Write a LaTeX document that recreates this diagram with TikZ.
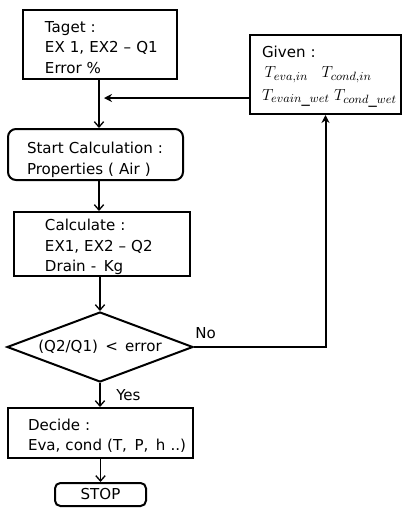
\documentclass[tikz,border=0pt]{standalone}
\usepackage{fontspec}
\setmainfont{DejaVu Sans}
\usetikzlibrary{shapes.geometric,arrows.meta}
\newcommand\topstrut[1]{\rule{0pt}{#1}}
\begin{document}
\begin{tikzpicture}[x=0.75pt,y=-0.75pt,
  txt/.style={font=\fontsize{11.3}{15.4}\selectfont},
  box/.style={draw,line width=1.5pt,align=left,txt,inner ysep=0pt},
  rbox/.style={box,rounded corners=6pt},
  conn/.style={line width=1pt,-{Straight Barb[length=4pt,width=7pt,line width=1pt]}},
  fconn/.style={line width=1.5pt,-{Stealth[length=6pt,width=6pt]}},
  lbl/.style={txt,inner sep=0pt}]
\useasboundingbox (0,0) rectangle (402,508);

\node[box,minimum width=154*0.75pt,minimum height=69*0.75pt,inner xsep=22*0.75pt,text width=110*0.75pt] (taget) at (100,44.5)
  {\mbox{\topstrut{12.5pt}Taget :}\\\mbox{EX 1, EX2 -- Q1}\\\mbox{Error \%}};

\node[box,minimum width=151*0.75pt,minimum height=79*0.75pt,inner xsep=12*0.75pt,text width=127*0.75pt] (given) at (325.5,74.5)
  {\mbox{\topstrut{11.7pt}Given :}\\[0pt]
   \mbox{\fontsize{12.3}{15}\selectfont\,$T_{eva,in}\;\;\;T_{cond,in}$}\\[1.5pt]
   \mbox{\fontsize{12.3}{15}\selectfont$T_{evain\_wet}\;T_{cond\_wet}$}};

\node[rbox,minimum width=175*0.75pt,minimum height=51*0.75pt,inner xsep=19*0.75pt,text width=137*0.75pt] (start) at (95.5,154.5)
  {\mbox{\topstrut{16.2pt}Start Calculation :}\\\mbox{Properties ( Air )}};

\node[box,minimum width=176*0.75pt,minimum height=64*0.75pt,inner xsep=31*0.75pt,text width=114*0.75pt] (calc) at (102,244)
  {\mbox{\topstrut{13.2pt}Calculate :}\\\mbox{EX1, EX2 -- Q2}\\\mbox{Drain -\, Kg}};

\node[draw,diamond,line width=1.5pt,aspect=2.66,inner sep=0pt,minimum width=186*0.75pt,minimum height=70*0.75pt,txt] (dia) at (100,347)
  {(Q2/Q1)\, <\, error};

\node[box,minimum width=185*0.75pt,minimum height=50*0.75pt,inner xsep=20*0.75pt,text width=145*0.75pt] (decide) at (100.5,433)
  {\mbox{\topstrut{12.5pt}Decide :}\\\mbox{Eva, cond (T,\, P,\, h ..)}};

\node[rbox,rounded corners=4pt,minimum width=91*0.75pt,minimum height=23*0.75pt,inner xsep=0pt,align=center] (stop) at (100.5,494.5)
  {STOP};

\coordinate (join) at (104,98);
\coordinate (tx) at (99,0);

\draw[conn] (taget.south -| tx) -- (start.north -| tx);
\draw[fconn] (given.west |- join) -- (join);
\draw[conn] (start.south -| tx) -- (calc.north -| tx);
\draw[conn] (calc.south -| dia.north) -- (dia.north);
\draw[fconn] (dia.east) -| (given.south);
\draw[conn] (dia.south) -- (decide.north -| dia.south);
\draw[conn] (decide.south -| stop.north) -- (stop.north);

\node[lbl,anchor=west] (no) at (195,333) {No};
\node[lbl,anchor=west] (yes) at (116,395) {Yes};
\end{tikzpicture}
\end{document}
